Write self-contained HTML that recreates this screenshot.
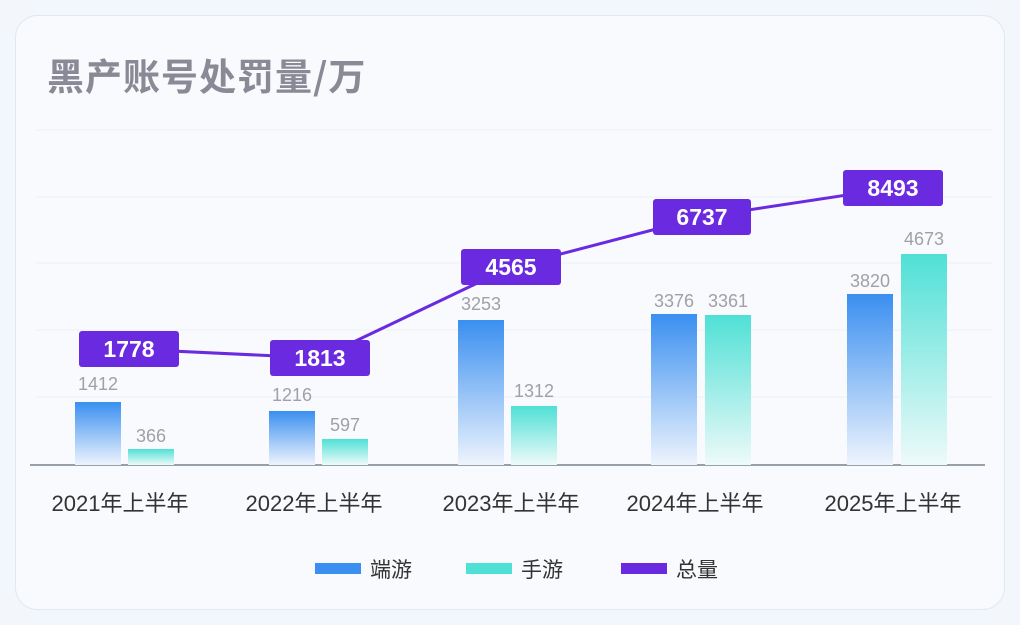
<!DOCTYPE html>
<html><head><meta charset="utf-8"><style>
body{margin:0;width:1020px;height:625px;background:#f3f6fa;font-family:"Liberation Sans","Noto Sans CJK SC",sans-serif;overflow:hidden}
</style></head><body>
<svg width="1020" height="625" xmlns="http://www.w3.org/2000/svg" style="position:absolute;left:0;top:0">
<defs>
<linearGradient id="b" x1="0" y1="0" x2="0" y2="1"><stop offset="0" stop-color="#3a8ff0"/><stop offset="1" stop-color="#eef4fd"/></linearGradient>
<linearGradient id="c" x1="0" y1="0" x2="0" y2="1"><stop offset="0" stop-color="#4fe0d6"/><stop offset="1" stop-color="#eefaf9"/></linearGradient>
</defs>
<rect x="15.5" y="15.5" width="989" height="594" rx="22" fill="#f8fafd" stroke="#dfe9f2"/>
<text x="47" y="90" font-size="37" font-weight="bold" fill="#8a8a96" letter-spacing="1" font-family="Noto Sans CJK SC, sans-serif">黑产账号处罚量/万</text>
<g stroke="#edf0f5" stroke-width="1">
<line x1="35" y1="130" x2="992" y2="130"/><line x1="35" y1="197" x2="992" y2="197"/><line x1="35" y1="263" x2="992" y2="263"/><line x1="35" y1="330" x2="992" y2="330"/><line x1="35" y1="397" x2="992" y2="397"/>
</g>
<line x1="30" y1="465" x2="985" y2="465" stroke="#9aa0a8" stroke-width="2"/>
<g>
<rect x="75" y="402" width="46" height="63" fill="url(#b)"/><rect x="128" y="449" width="46" height="16" fill="url(#c)"/>
<rect x="269" y="411" width="46" height="54" fill="url(#b)"/><rect x="322" y="439" width="46" height="26" fill="url(#c)"/>
<rect x="458" y="320" width="46" height="145" fill="url(#b)"/><rect x="511" y="406" width="46" height="59" fill="url(#c)"/>
<rect x="651" y="314" width="46" height="151" fill="url(#b)"/><rect x="705" y="315" width="46" height="150" fill="url(#c)"/>
<rect x="847" y="294" width="46" height="171" fill="url(#b)"/><rect x="901" y="254" width="46" height="211" fill="url(#c)"/>
</g>
<g font-size="18" fill="#a0a0a6" text-anchor="middle">
<text x="98" y="390">1412</text><text x="151" y="442">366</text>
<text x="292" y="401">1216</text><text x="345" y="431">597</text>
<text x="481" y="310">3253</text><text x="534" y="397">1312</text>
<text x="674" y="307">3376</text><text x="728" y="307">3361</text>
<text x="870" y="287">3820</text><text x="924" y="245">4673</text>
</g>
<polyline points="129,349 320,358 511,267 702,217 893,188" fill="none" stroke="#6a2ae0" stroke-width="3"/>
<g fill="#6a2ae0">
<rect x="79" y="331" width="100" height="36" rx="3"/><rect x="270" y="340" width="100" height="36" rx="3"/>
<rect x="461" y="249" width="100" height="36" rx="3"/><rect x="653" y="199" width="98" height="36" rx="3"/>
<rect x="843" y="170" width="100" height="36" rx="3"/>
</g>
<g font-size="23" font-weight="bold" fill="#fff" text-anchor="middle">
<text x="129" y="357">1778</text><text x="320" y="366">1813</text><text x="511" y="275">4565</text><text x="702" y="225">6737</text><text x="893" y="196">8493</text>
</g>
<g font-size="22" fill="#333" text-anchor="middle" font-family="Liberation Sans, Noto Sans CJK SC, sans-serif">
<text x="120" y="511">2021年上半年</text><text x="314" y="511">2022年上半年</text><text x="511" y="511">2023年上半年</text><text x="695" y="511">2024年上半年</text><text x="893" y="511">2025年上半年</text>
</g>
<rect x="315" y="563" width="46" height="11" fill="#3a8ff0"/><text x="370" y="577" font-size="21" fill="#333" font-family="Noto Sans CJK SC, sans-serif">端游</text>
<rect x="466" y="563" width="46" height="11" fill="#4fe0d6"/><text x="521" y="577" font-size="21" fill="#333" font-family="Noto Sans CJK SC, sans-serif">手游</text>
<rect x="621" y="563" width="46" height="11" fill="#6a2ae0"/><text x="676" y="577" font-size="21" fill="#333" font-family="Noto Sans CJK SC, sans-serif">总量</text>
</svg>
</body></html>
